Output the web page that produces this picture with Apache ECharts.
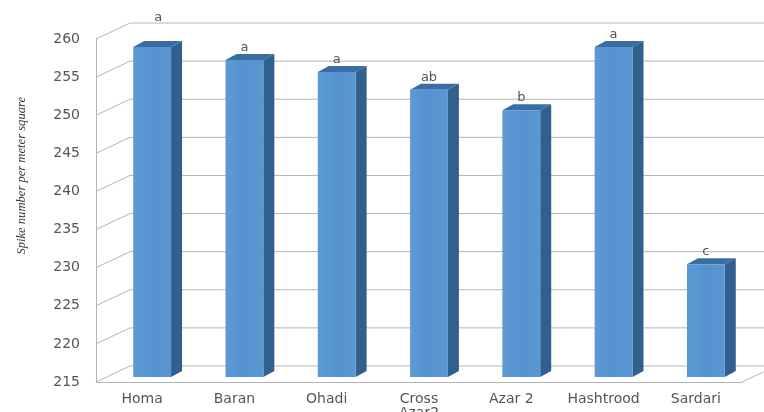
<!DOCTYPE html>
<html>
<head>
<meta charset="utf-8">
<script src="https://cdn.jsdelivr.net/npm/echarts@6/dist/echarts.min.js"></script>
<style>html,body{margin:0;padding:0;background:#fff}#c{width:764px;height:412px;filter:blur(0.6px)}</style>
</head>
<body>
<div id="c"></div>
<script>
const categories = ['Homa', 'Baran', 'Ohadi', 'Cross\nAzar2', 'Azar 2', 'Hashtrood', 'Sardari'];
const spikeNumber = [258.3, 256.6, 255, 252.7, 250, 258.3, 229.8];
const groupLetters = ['a', 'a', 'a', 'ab', 'b', 'a', 'c'];
const gridValues = [215, 220, 225, 230, 235, 240, 245, 250, 255, 260];
const yTitle = 'Spike number per meter square';

const wallDx = 34, wallDy = -16, barDx = 10, barDy = -5, depthDx = 11, depthDy = -6;
const letterShift = {0: {x: 6, y: 17}};
const gridColor = '#b4b4b4';

const chart = echarts.init(document.getElementById('c'), null, {renderer: 'canvas'});

function renderGrid(params, api) {
  const v = api.value(1);
  const y = api.coord([0, v])[1];
  const r = params.coordSys;
  const lineStyle = {stroke: gridColor, lineWidth: 1, fill: null};
  const kids = [{
    type: 'polyline',
    shape: {points: [[r.x, y], [r.x + wallDx, y + wallDy], [764, y + wallDy]]},
    style: lineStyle
  }];
  if (params.dataIndex === 0) {
    kids.push({
      type: 'line',
      shape: {x1: r.x + r.width, y1: y, x2: r.x + r.width + wallDx, y2: y + wallDy},
      style: lineStyle
    });
  }
  return {type: 'group', children: kids};
}

function renderBar(params, api) {
  const i = api.value(0), v = api.value(1);
  const c = api.coord([i, v]);
  const b = api.coord([i, 215]);
  const w = api.size([1, 0])[0] * 0.41;
  const x0 = c[0] + barDx - w / 2, x1 = x0 + w;
  const yt = c[1] + barDy, yb = b[1] + barDy;
  const shift = letterShift[params.dataIndex] || {x: 0, y: 0};
  const grad = new echarts.graphic.LinearGradient(0, 0, 1, 0, [
    {offset: 0, color: '#5c9ad6'}, {offset: 0.5, color: '#5592cf'}, {offset: 1, color: '#5a96d2'}
  ]);
  return {
    type: 'group',
    children: [
      {type: 'polygon', shape: {points: [[x1, yt], [x1 + depthDx, yt + depthDy], [x1 + depthDx, yb + depthDy], [x1, yb]]},
        style: {fill: '#315f8e'}},
      {type: 'polygon', shape: {points: [[x0, yt], [x0 + depthDx, yt + depthDy], [x1 + depthDx, yt + depthDy], [x1, yt]]},
        style: {fill: '#3a6ea3'}},
      {type: 'rect', shape: {x: x0, y: yt, width: w, height: yb - yt}, style: {fill: grad}},
      {type: 'text', style: {
        text: groupLetters[params.dataIndex],
        x: c[0] + barDx + shift.x, y: yt + depthDy - shift.y,
        align: 'center', verticalAlign: 'bottom',
        fill: '#555', font: '13px "DejaVu Sans"'
      }}
    ]
  };
}

chart.setOption({
  animation: false,
  backgroundColor: '#fff',
  grid: {left: 96, right: 22, top: 39, bottom: 30, containLabel: false, outerBoundsMode: 'none'},
  xAxis: {
    type: 'category',
    data: categories,
    axisLine: {lineStyle: {color: gridColor}},
    axisTick: {show: false},
    axisLabel: {color: '#555', fontFamily: 'DejaVu Sans', fontSize: 14, margin: 10, lineHeight: 14, interval: 0}
  },
  yAxis: {
    type: 'value', min: 215, max: 260, interval: 5,
    axisLine: {show: true, lineStyle: {color: gridColor}},
    axisTick: {show: false},
    splitLine: {show: false},
    axisLabel: {color: '#555', fontFamily: 'DejaVu Sans', fontSize: 14, margin: 16}
  },
  graphic: [{
    type: 'text', left: 15, top: 97, rotation: Math.PI / 2,
    style: {text: yTitle, fill: '#333', font: 'italic 12.6px "Liberation Serif"'}
  }],
  series: [
    {type: 'custom', name: 'walls', z: 1, clip: false, silent: true,
      encode: {x: 0, y: 1}, data: gridValues.map(t => [0, t]), renderItem: renderGrid},
    {type: 'custom', name: 'Spike number', z: 5, clip: false,
      encode: {x: 0, y: 1}, data: spikeNumber.map((v, i) => [i, v]), renderItem: renderBar}
  ]
});
</script>
</body>
</html>
